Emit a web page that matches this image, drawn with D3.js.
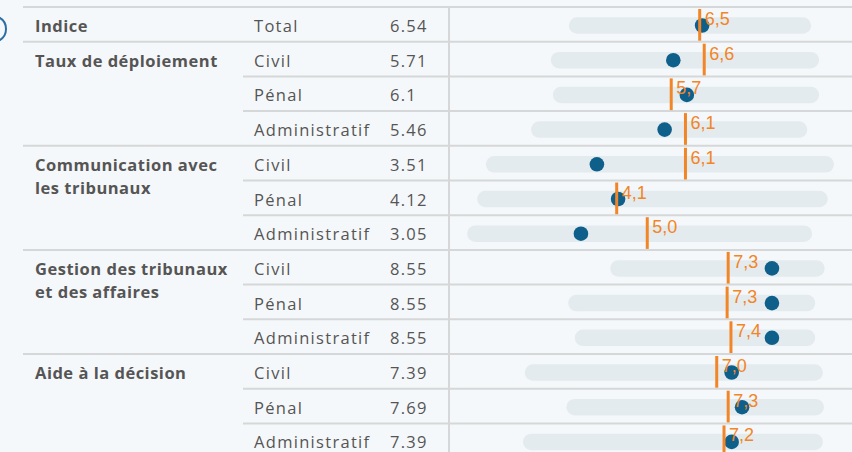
<!DOCTYPE html>
<html>
  <head>
    <meta charset="utf-8" />
    <title>Indice</title>
    <script src="https://d3js.org/d3.v7.min.js"></script>
    <style>
      body {
        margin: 0;
        background-color: #f5f8fa;
      }
      svg {
        display: block;
        background-color: #f5f8fa;
      }
    </style>
  </head>
  <body>
    <svg width="852" height="452" id="chart"></svg>

    <script>
      // groups (label lines) and rows
      const groupLabels = [
        ["Indice"],
        ["Taux de déploiement"],
        ["Communication avec", "les tribunaux"],
        ["Gestion des tribunaux", "et des affaires"],
        ["Aide à la décision"]
      ];
      const rowGroup = [0, 1, 1, 1, 2, 2, 2, 3, 3, 3, 4, 4, 4];
      const rowSub = ["Total", "Civil", "Pénal", "Administratif", "Civil", "Pénal", "Administratif",
                      "Civil", "Pénal", "Administratif", "Civil", "Pénal", "Administratif"];
      const scores = [6.54, 5.71, 6.1, 5.46, 3.51, 4.12, 3.05, 8.55, 8.55, 8.55, 7.39, 7.69, 7.39];
      const benchmark = [6.47, 6.60, 5.65, 6.06, 6.06, 4.08, 4.96, 7.29, 7.26, 7.37, 6.96, 7.29, 7.17];
      const rangeMin = [2.94, 2.42, 2.48, 1.85, 0.55, 0.30, 0.01, 4.13, 2.92, 3.11, 1.67, 2.87, 1.62];
      const rangeMax = [9.44, 9.67, 9.67, 9.33, 10.1, 9.92, 9.47, 9.83, 9.56, 9.56, 9.78, 9.81, 9.78];

      const svg = d3.select("#chart");
      const top0 = 7, rowH = 34.7;
      const x = d3.scaleLinear().domain([0, 10]).range([475, 822.3]);
      const rowY = i => top0 + i * rowH;
      const textFont = "'Open Sans', 'Noto Sans', sans-serif";

      // little cut-off icon at the far left
      svg.append("path")
        .attr("d", d3.arc()({innerRadius: 13, outerRadius: 13, startAngle: 0.45, endAngle: 2.7}))
        .attr("transform", "translate(-7,29)")
        .attr("fill", "none")
        .attr("stroke", "#2b6ea6")
        .attr("stroke-width", 2);

      // grid lines
      const groupStarts = rowGroup.map((g, i) => i === 0 || g !== rowGroup[i - 1]);
      const bounds = d3.range(rowSub.length + 1);
      svg.append("g").selectAll("line")
        .data(bounds)
        .enter()
        .append("line")
        .attr("x1", i => (i === 0 || i === rowSub.length || groupStarts[i]) ? 23 : 243)
        .attr("x2", 852)
        .attr("y1", i => rowY(i))
        .attr("y2", i => rowY(i))
        .attr("stroke", "#d5d7d8")
        .attr("stroke-width", 2);

      svg.append("line")
        .attr("x1", 449).attr("x2", 449)
        .attr("y1", top0).attr("y2", 452)
        .attr("stroke", "#d5d7d8")
        .attr("stroke-width", 2);

      // group labels
      const firstRow = groupLabels.map((g, gi) => rowGroup.indexOf(gi));
      const gl = svg.append("g").selectAll("text")
        .data(groupLabels)
        .enter()
        .append("text")
        .attr("x", 35)
        .attr("y", (d, gi) => rowY(firstRow[gi]) + 25)
        .attr("font-family", textFont)
        .attr("font-size", 16.5)
        .attr("letter-spacing", 0.5)
        .attr("font-weight", "bold")
        .attr("fill", "#555555");
      gl.selectAll("tspan")
        .data(d => d)
        .enter()
        .append("tspan")
        .attr("x", 35)
        .attr("dy", (d, i) => i === 0 ? 0 : 23)
        .text(d => d);

      // subcategory and value columns
      svg.append("g").selectAll("text")
        .data(rowSub)
        .enter()
        .append("text")
        .attr("x", 254)
        .attr("y", (d, i) => rowY(i) + 25)
        .attr("font-family", textFont)
        .attr("font-size", 16.5)
        .attr("letter-spacing", 1.3)
        .attr("fill", "#555555")
        .text(d => d);

      svg.append("g").selectAll("text")
        .data(scores)
        .enter()
        .append("text")
        .attr("x", 390)
        .attr("y", (d, i) => rowY(i) + 25)
        .attr("font-family", textFont)
        .attr("font-size", 16.5)
        .attr("letter-spacing", 1.3)
        .attr("fill", "#555555")
        .text(d => d);

      // range bars
      svg.append("g").selectAll("line")
        .data(scores)
        .enter()
        .append("line")
        .attr("x1", (d, i) => x(rangeMin[i]))
        .attr("x2", (d, i) => x(rangeMax[i]))
        .attr("y1", (d, i) => rowY(i) + 18.5)
        .attr("y2", (d, i) => rowY(i) + 18.5)
        .attr("stroke", "#e4ebee")
        .attr("stroke-width", 16.5)
        .attr("stroke-linecap", "round");

      // score dots
      svg.append("g").selectAll("circle")
        .data(scores)
        .enter()
        .append("circle")
        .attr("cx", d => x(d))
        .attr("cy", (d, i) => rowY(i) + 18.5)
        .attr("r", 7.3)
        .attr("fill", "#0f5f8b");

      // benchmark marks
      svg.append("g").selectAll("line")
        .data(benchmark)
        .enter()
        .append("line")
        .attr("x1", d => x(d))
        .attr("x2", d => x(d))
        .attr("y1", (d, i) => rowY(i) + 2)
        .attr("y2", (d, i) => rowY(i + 1) - 1)
        .attr("stroke", "#f28526")
        .attr("stroke-width", 3);

      svg.append("g").selectAll("text")
        .data(benchmark)
        .enter()
        .append("text")
        .attr("x", d => x(d) + 5)
        .attr("y", (d, i) => rowY(i) + 18)
        .attr("font-family", "'Liberation Sans', Arial, sans-serif")
        .attr("font-size", 18)
        .attr("fill", "#f28526")
        .text(d => d3.format(".1f")(d).replace(".", ","));
    </script>
  </body>
</html>
